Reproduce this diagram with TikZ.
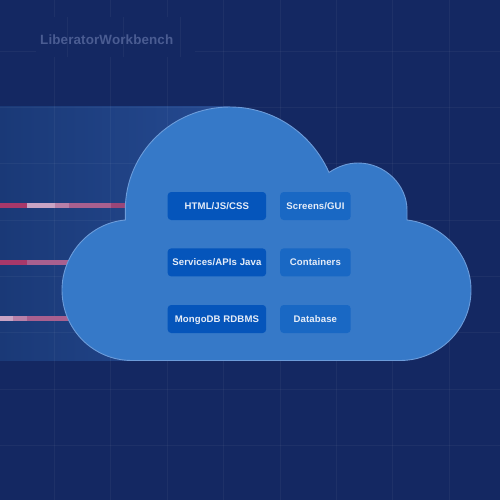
\documentclass[tikz,border=0pt]{standalone}
\usepackage{fontspec}
\setmainfont{Liberation Sans}[LetterSpace=1]
\usetikzlibrary{backgrounds}
\definecolor{bgc}{HTML}{142862}
\definecolor{bandl}{HTML}{1A3977}
\definecolor{bandr}{HTML}{254A91}
\definecolor{cloudc}{HTML}{3679C8}
\definecolor{cloude}{HTML}{6C9CDA}
\definecolor{boxd}{HTML}{0555BB}
\definecolor{boxl}{HTML}{1968C4}
\definecolor{labelc}{HTML}{E6EDF8}
\definecolor{logoc}{HTML}{4A5C92}
\definecolor{sa}{HTML}{A8386A}
\definecolor{sb}{HTML}{C9A4C4}
\definecolor{sc}{HTML}{B880A8}
\definecolor{sd}{HTML}{A8608F}
\definecolor{se}{HTML}{9A4678}
\tikzset{
  x=1pt,y=-1pt,
  gridline/.style={draw=white,opacity=0.042,line width=0.9pt},
  stripe/.style={line width=5pt},
  basebox/.style={rounded corners=3.5pt,minimum height=28pt,inner sep=0pt,text=labelc,text height=7pt,text depth=0pt,font=\bfseries\fontsize{9.6}{11}\selectfont},
  leftbox/.style={basebox,fill=boxd,minimum width=98.5pt},
  rightbox/.style={basebox,fill=boxl,minimum width=70.5pt},
}
\begin{document}
\begin{tikzpicture}
\useasboundingbox (0,0) rectangle (500,500);
\fill[bgc] (0,0) rectangle (500,500);
\shade[left color=bandl,right color=bandr] (0,107) rectangle (230,360.5);
\foreach \gx in {54,110.6,167,223.5,280,336.4,392.8,449.2}{\draw[gridline] (\gx,0)--(\gx,500);}
\foreach \gy in {51,107.3,163.6,220,276.3,332.6,389,445.3}{\draw[gridline] (0,\gy)--(500,\gy);}
\fill[bgc] (36,17.5) rectangle (195,57.5);
\foreach \gx in {67.3,123.6,180}{\draw[gridline] (\gx,17.5)--(\gx,57.5);}
\node[anchor=west,inner sep=0pt,text=logoc,font=\bfseries\fontsize{13.4}{15}\selectfont] (logo) at (40,39.5) {LiberatorWorkbench};
% stripes
\draw[stripe,sa] (0,205.8)--(27,205.8);
\draw[stripe,sb] (27,205.8)--(55,205.8);
\draw[stripe,sc] (55,205.8)--(69,205.8);
\draw[stripe,sd] (69,205.8)--(111,205.8);
\draw[stripe,se] (111,205.8)--(130,205.8);
\draw[stripe,sa] (0,262.5)--(27,262.5);
\draw[stripe,sd] (27,262.5)--(72,262.5);
\draw[stripe,sb] (0,318.7)--(13,318.7);
\draw[stripe,sc] (13,318.7)--(27,318.7);
\draw[stripe,sd] (27,318.7)--(72,318.7);
% cloud
\draw[fill=cloudc,draw=cloude,line width=0.9pt,line join=miter]
 (125.3,220) -- (125.3,210)
 .. controls (125.3,153) and (172,107) .. (230,107)
 .. controls (274,107) and (312,134) .. (329,172.5)
 .. controls (337,167) and (347,163) .. (358,163)
 .. controls (385,163) and (407,185) .. (407,210)
 -- (407,220)
 .. controls (442,224) and (471,254) .. (471,290)
 .. controls (471,329) and (439,360.5) .. (400,360.5)
 -- (132,360.5)
 .. controls (93,360.5) and (62,329) .. (62,290)
 .. controls (62,254) and (90,223) .. (125.3,220) -- cycle;
% boxes
\node[leftbox] (html) at (216.9,206) {HTML/JS/CSS};
\node[leftbox] (services) at (216.9,262.4) {Services/APIs Java};
\node[leftbox] (mongo) at (216.9,319) {MongoDB RDBMS};
\node[rightbox] (screens) at (315.4,206) {Screens/GUI};
\node[rightbox] (containers) at (315.4,262.4) {Containers};
\node[rightbox] (database) at (315.4,319) {Database};
\end{tikzpicture}
\end{document}
